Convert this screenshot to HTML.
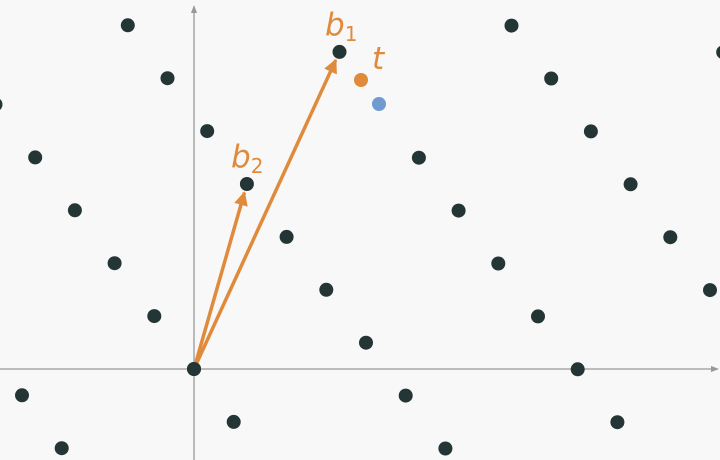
<!DOCTYPE html>
<html><head><meta charset="utf-8"><style>
html,body{margin:0;padding:0;background:#f8f8f8;}
svg{display:block;}
text{font-family:"DejaVu Sans","Liberation Sans",sans-serif;font-style:italic;fill:#e08a3c;}
</style></head><body>
<svg id="chart" width="720" height="460" viewBox="0 0 720 460">
<defs>
<marker id="ah" viewBox="0 0 10 10" refX="9" refY="5" markerWidth="4" markerHeight="4" orient="auto"><path d="M0,0 L10,5 L0,10 z" fill="#e08a3c"/></marker>
<marker id="ga" viewBox="0 0 10 10" refX="9" refY="5" markerWidth="6" markerHeight="6" orient="auto"><path d="M0,1 L10,5 L0,9 z" fill="#999"/></marker>
</defs>
<rect width="720" height="460" fill="#f8f8f8"/>
<line x1="0" y1="369" x2="718" y2="369" stroke="#999" stroke-width="1.3" marker-end="url(#ga)"/>
<line x1="194" y1="460" x2="194" y2="6" stroke="#999" stroke-width="1.3" marker-end="url(#ga)"/>
<g id="pts"></g>
<g id="vecs"></g>
<text x="325" y="35" font-size="31">b<tspan font-size="20" dy="6" font-style="normal">1</tspan></text>
<text x="231" y="167" font-size="31">b<tspan font-size="20" dy="6" font-style="normal">2</tspan></text>
<text x="372" y="69" font-size="31">t</text>
</svg>
<script>
// lattice basis in screen pixels (generator vectors)
const origin = [194, 369];
const genU = [39.7, 52.9];
const genV = [172, -26.3];
const coefRange = [-8, 8];
// basis vectors drawn as arrows, as (v,u) coefficients
const basisNames = ['b1', 'b2'];
const basisCoefs = [[2, -5], [1, -3]];
// target and closest-vector points (pixel coords relative to origin)
const targetPt = [167, -289];
const bluePt = [185, -265];

const ns = 'http://www.w3.org/2000/svg';
function sx(a, b) { return origin[0] + a * genV[0] + b * genU[0]; }
function sy(a, b) { return origin[1] + a * genV[1] + b * genU[1]; }
const g = document.getElementById('pts');
for (let a = coefRange[0]; a <= coefRange[1]; a++) {
  for (let b = -12; b <= 12; b++) {
    const x = sx(a, b), y = sy(a, b);
    if (x < -10 || x > 730 || y < 8 || y > 470) continue;
    if (Math.hypot(x - origin[0] - bluePt[0], y - origin[1] - bluePt[1]) < 4) continue;
    const c = document.createElementNS(ns, 'circle');
    c.setAttribute('cx', x); c.setAttribute('cy', y); c.setAttribute('r', 7);
    c.setAttribute('fill', '#233535');
    
    
    g.appendChild(c);
  }
}
const vg = document.getElementById('vecs');
basisCoefs.forEach((bc, i) => {
  const x2 = sx(bc[0], bc[1]), y2 = sy(bc[0], bc[1]);
  const dx = x2 - origin[0], dy = y2 - origin[1], L = Math.hypot(dx, dy);
  const l = document.createElementNS(ns, 'line');
  l.setAttribute('x1', origin[0]); l.setAttribute('y1', origin[1]);
  l.setAttribute('x2', x2 - dx / L * 9); l.setAttribute('y2', y2 - dy / L * 9);
  l.setAttribute('stroke', '#e08a3c'); l.setAttribute('stroke-width', 3.5);
  l.setAttribute('marker-end', 'url(#ah)');
  
  
  vg.appendChild(l);
});
const t = document.createElementNS(ns, 'circle');
t.setAttribute('cx', origin[0] + targetPt[0]); t.setAttribute('cy', origin[1] + targetPt[1]);
t.setAttribute('r', 7); t.setAttribute('fill', '#e08a3c');


vg.appendChild(t);
const bp = document.createElementNS(ns, 'circle');
bp.setAttribute('cx', origin[0] + bluePt[0]); bp.setAttribute('cy', origin[1] + bluePt[1]);
bp.setAttribute('r', 7); bp.setAttribute('fill', '#6f9bd1');


vg.appendChild(bp);
const o = document.createElementNS(ns, 'circle');
o.setAttribute('cx', origin[0]); o.setAttribute('cy', origin[1]); o.setAttribute('r', 7);
o.setAttribute('fill', '#233535');


vg.appendChild(o);
</script>
</body></html>
